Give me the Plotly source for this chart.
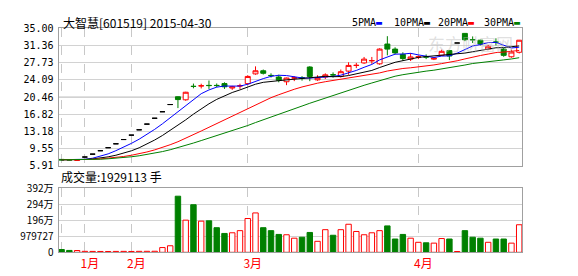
import numpy as np
import plotly.graph_objects as go

# ---------------- data ----------------
opens = [7.30, 7.26, 7.10, 7.80, 8.41, 9.14, 9.78, 10.60, 11.50, 12.43, 13.56, 14.76,
         16.00, 17.38, 18.90, 20.55, 19.90, 22.76, 22.83, 22.95, 22.95, 23.33, 22.39, 22.83,
         23.32, 25.38, 26.04, 25.06, 24.72, 23.72, 24.50, 24.54, 26.83, 24.12, 24.72, 25.20,
         24.84, 25.97, 27.15, 27.70, 28.15, 27.51, 31.69, 30.62, 29.50, 28.50, 28.94, 28.98,
         28.50, 29.30, 30.30, 31.90, 33.94, 32.62, 32.50, 30.60, 32.12, 30.62, 29.00, 29.95]
highs = [7.34, 7.28, 7.24, 7.80, 8.41, 9.14, 9.78, 10.60, 11.50, 12.43, 13.56, 14.76,
         16.00, 17.38, 18.90, 20.60, 21.60, 23.33, 23.30, 23.98, 23.35, 23.60, 22.85, 23.30,
         25.10, 26.97, 26.30, 25.50, 25.20, 24.60, 24.85, 24.90, 27.00, 25.10, 25.50, 25.70,
         26.30, 27.83, 27.70, 28.96, 28.96, 30.80, 33.35, 31.00, 29.95, 29.80, 29.30, 29.50,
         28.85, 30.50, 30.30, 31.90, 34.00, 33.30, 32.60, 31.50, 32.90, 31.00, 30.50, 32.55]
lows = [7.14, 7.12, 7.08, 7.80, 8.41, 9.14, 9.78, 10.60, 11.50, 12.43, 13.56, 14.76,
        16.00, 17.38, 18.90, 18.15, 19.70, 22.33, 22.30, 22.20, 22.55, 22.20, 22.00, 22.20,
        23.00, 25.20, 25.25, 24.60, 23.60, 23.00, 23.85, 23.95, 23.84, 23.90, 24.30, 24.60,
        24.60, 25.18, 26.60, 27.50, 27.50, 27.30, 29.30, 29.50, 28.10, 28.10, 28.50, 28.50,
        28.30, 29.16, 28.30, 31.90, 32.30, 31.90, 31.40, 30.40, 31.40, 29.00, 28.80, 29.70]
closes = [7.18, 7.16, 7.20, 7.80, 8.41, 9.14, 9.78, 10.60, 11.50, 12.43, 13.56, 14.76,
          16.00, 17.38, 18.90, 19.95, 21.50, 22.72, 22.87, 22.91, 22.91, 22.65, 22.65, 22.87,
          24.84, 26.04, 25.51, 25.02, 24.04, 24.50, 24.54, 24.50, 24.84, 24.52, 25.18, 25.16,
          25.84, 27.17, 27.19, 28.50, 28.19, 30.62, 30.62, 29.82, 28.62, 28.96, 28.98, 28.94,
          28.70, 30.15, 29.16, 31.90, 32.60, 32.58, 31.70, 31.20, 32.08, 29.30, 30.00, 32.50]
volumes = [170000, 115000, 110000, 60000, 55000, 52000, 50000, 55000, 58000, 52000, 60000,
           62000, 65000, 290000, 400000, 3420000, 1960000, 2900000, 1900000, 1920000, 1500000,
           1150000, 1190000, 1320000, 2060000, 2400000, 1500000, 1320000, 1090000, 1070000,
           860000, 920000, 1210000, 670000, 1380000, 1040000, 1380000, 1710000, 1270000,
           1070000, 1190000, 1320000, 1610000, 810000, 1090000, 860000, 610000, 580000, 560000,
           840000, 810000, 50000, 1320000, 920000, 860000, 610000, 810000, 810000, 560000,
           1680000]
# closes before the first shown day, needed to seed the moving averages
prior_closes = [7.15, 7.18, 7.22, 7.20, 7.25, 7.21, 7.19, 7.23, 7.26, 7.22, 7.18, 7.20,
                7.24, 7.27, 7.23, 7.21, 7.19, 7.22, 7.25, 7.24, 7.20, 7.18, 7.21, 7.23,
                7.26, 7.24, 7.22, 7.25, 7.28]

ma_periods = [5, 10, 20, 30]
ma_names = ["5PMA", "10PMA", "20PMA", "30PMA"]

price_ticks = [5.91, 9.55, 13.18, 16.82, 20.46, 24.09, 27.73, 31.36, 35.00]
price_labels = ["5.91", "9.55", "13.18", "16.82", "20.46", "24.09", "27.73", "31.36", "35.00"]
vol_ticks = [0, 979727, 1959454, 2939181, 3918908]
vol_labels = ["0", "979727", "196万", "294万", "392万"]
month_idx = [0, 3, 9, 24, 46]
month_labels = ["", "1月", "2月", "3月", "4月"]

title_text = "大智慧[601519] 2015-04-30"
vol_title = "成交量:1929113 手"
last_volume_text = vol_title

# ---------------- style ----------------
RED = "#ff0000"
GREEN = "#008000"
ma_colors = ["#0000ff", "#000000", "#ff0000", "#008000"]
W, H = 578, 276
XD = [58.5 / W, 522.3 / W]
PD = [(H - 166.0) / H, (H - 20.5) / H]
VD = [(H - 257.3) / H, (H - 189.3) / H]

n = len(closes)
xs = list(range(n))
flat = [i for i in xs if highs[i] == lows[i]]
norm = [i for i in xs if highs[i] != lows[i]]

fig = go.Figure()

allc = np.array(prior_closes + closes, dtype=float)
for p, name, col in zip(ma_periods, ma_names, ma_colors):
    ma = np.convolve(allc, np.ones(p) / p, mode="valid")[-n:]
    fig.add_trace(go.Scatter(x=xs, y=ma, mode="lines", line=dict(color=col, width=1),
                             showlegend=False, hoverinfo="skip", xaxis="x", yaxis="y"))

fig.add_trace(go.Candlestick(
    x=norm, open=[opens[i] for i in norm], high=[highs[i] for i in norm],
    low=[lows[i] for i in norm], close=[closes[i] for i in norm],
    increasing=dict(line=dict(color=RED, width=1), fillcolor="white"),
    decreasing=dict(line=dict(color=GREEN, width=1), fillcolor=GREEN),
    whiskerwidth=0, showlegend=False, xaxis="x", yaxis="y"))
fig.add_trace(go.Candlestick(
    x=flat, open=[opens[i] for i in flat], high=[highs[i] for i in flat],
    low=[lows[i] for i in flat], close=[closes[i] for i in flat],
    increasing=dict(line=dict(color="black", width=1), fillcolor="black"),
    decreasing=dict(line=dict(color="black", width=1), fillcolor="black"),
    whiskerwidth=0, showlegend=False, xaxis="x", yaxis="y"))

up = [closes[i] >= opens[i] for i in xs]
fig.add_trace(go.Bar(
    x=xs, y=volumes,
    marker=dict(color=["white" if u else GREEN for u in up],
                line=dict(color=[RED if u else GREEN for u in up], width=1)),
    showlegend=False, xaxis="x2", yaxis="y2"))

grid = "#d2d2d2"
frame = "#a0a0a0"
tickfont = dict(family="DejaVu Sans Mono", size=10, color="#000000")

fig.update_layout(
    width=W, height=H, margin=dict(l=0, r=0, t=0, b=0),
    paper_bgcolor="white", plot_bgcolor="white",
    boxgap=0.2, boxgroupgap=0.2, bargap=0.3,
    xaxis=dict(domain=XD, anchor="y", range=[-0.4, n - 0.6], tickvals=month_idx,
               showticklabels=False, showgrid=True, gridcolor="#c8c8c8", griddash="dash",
               showline=True, mirror=True, linecolor=frame, zeroline=False,
               rangeslider=dict(visible=False), ticks=""),
    xaxis2=dict(domain=XD, anchor="y2", matches="x", range=[-0.4, n - 0.6],
                tickvals=month_idx, ticktext=month_labels,
                tickfont=dict(family="Noto Sans CJK SC", size=12, color=RED),
                ticklabelshift=5, ticklabelstandoff=0,
                showgrid=True, gridcolor="#c8c8c8", griddash="dash",
                showline=True, mirror=True, linecolor=frame, zeroline=False,
                rangeslider=dict(visible=False), ticks=""),
    yaxis=dict(domain=PD, anchor="x", range=[price_ticks[0], price_ticks[-1]],
               tickvals=price_ticks, ticktext=price_labels, tickfont=tickfont,
               showgrid=True, gridcolor=grid, showline=True, mirror=True, linecolor=frame,
               zeroline=False, ticks="", ticklabelstandoff=2),
    yaxis2=dict(domain=VD, anchor="x2", range=[vol_ticks[0], vol_ticks[-1]],
                tickvals=vol_ticks, ticktext=vol_labels,
                tickfont=dict(family="Noto Sans CJK SC", size=10, color="#000000"),
                showgrid=True, gridcolor=grid, showline=True, mirror=True, linecolor=frame,
                zeroline=False, ticks="", ticklabelstandoff=2),
    showlegend=False,
)

fig.add_shape(type="line", xref="x domain", x0=0, x1=1, yref="y",
              y0=price_ticks[4], y1=price_ticks[4], line=dict(color="#a8a8a8", width=1),
              layer="below")

ann = []
ann.append(dict(text="东方财富网", x=470 / W, y=(H - 36) / H, xref="paper", yref="paper",
                showarrow=False, font=dict(family="Noto Sans CJK SC", size=17,
                                           color="rgba(185,185,185,0.45)"),
                xanchor="center", yanchor="middle"))
ann.append(dict(text=title_text, x=61 / W, y=(H - 14.5) / H, xref="paper", yref="paper",
                showarrow=False, font=dict(family="Noto Sans CJK SC", size=12, color="#000"),
                xanchor="left", yanchor="middle"))
ann.append(dict(text=vol_title, x=59 / W, y=(H - 177) / H, xref="paper", yref="paper",
                showarrow=False, font=dict(family="Noto Sans CJK SC", size=12, color="#000"),
                xanchor="left", yanchor="middle"))
leg_x = [350, 392, 436, 482]
for name, col, lx in zip(ma_names, ma_colors, leg_x):
    ann.append(dict(text=f"{name}<span style='color:{col}'>▬</span>", x=lx / W,
                    y=(H - 14.5) / H, xref="paper", yref="paper", showarrow=False,
                    font=dict(family="DejaVu Sans Mono", size=10, color="#000"),
                    xanchor="left", yanchor="middle"))
fig.update_layout(annotations=ann)

fig.write_html("out.html")
